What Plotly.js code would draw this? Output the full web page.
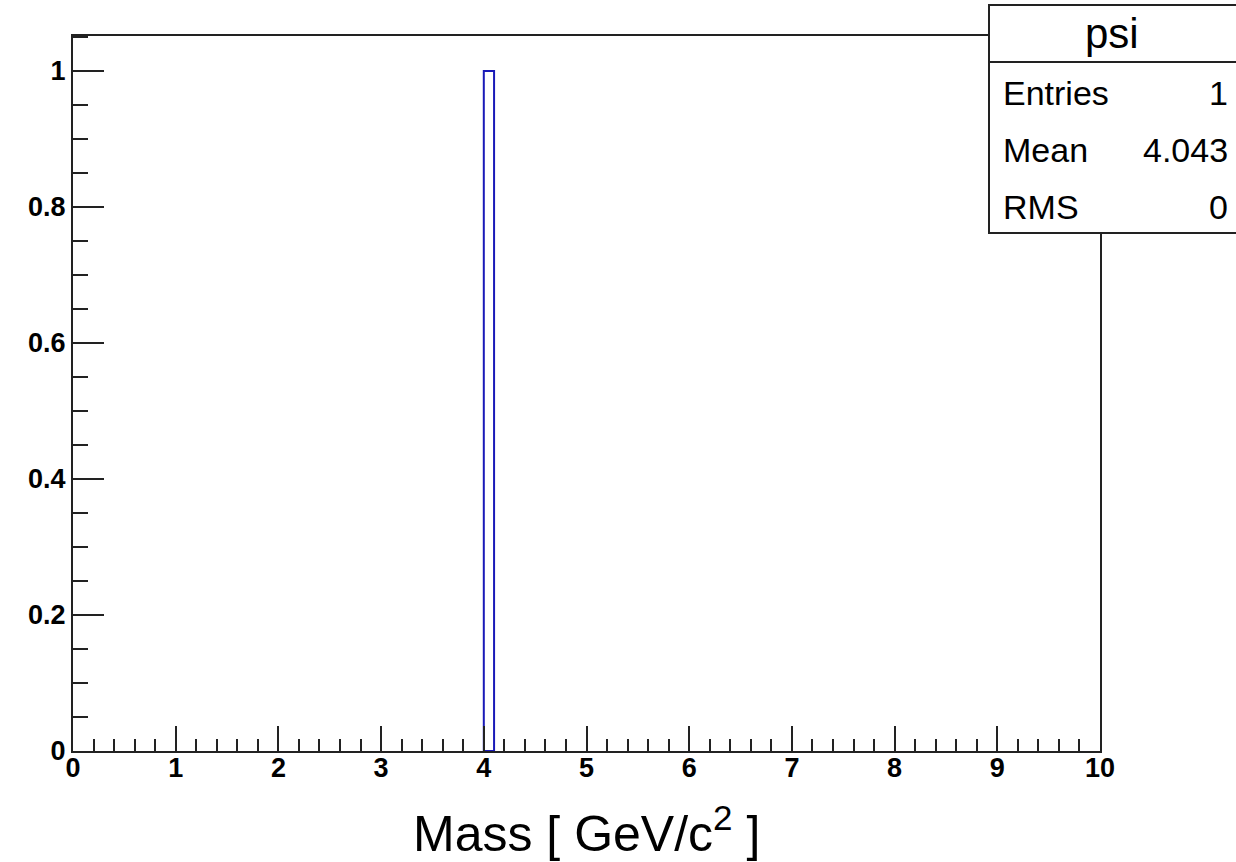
<!DOCTYPE html>
<html>
<head>
<meta charset="utf-8">
<script src="https://cdn.plot.ly/plotly-3.0.1.min.js"></script>
<style>html,body{margin:0;padding:0;background:#fff;}#chart{width:1236px;height:862px;}</style>
</head>
<body>
<div id="chart"></div>
<script>
// Histogram data (bin centers, counts, bin width)
const binCenters = [4.05];
const binCounts = [1];
const binWidth = [0.1];
// Stats box content
const statsTitle = "psi";
const statsLabels = ["Entries", "Mean", "RMS"];
const statsValues = ["1", "4.043", "0"];
const xTitle = "Mass [ GeV/c<sup>2</sup> ]";

const W = 1236, H = 862;
const L = 73, R = 1100, T = 36, B = 751;
const pw = R - L, ph = B - T;
const px = x => (x - L) / pw;
const py = y => (B - y) / ph;

const trace = {
  type: 'bar',
  x: binCenters,
  y: binCounts,
  width: binWidth,
  marker: {color: 'rgba(255,255,255,0)', line: {color: '#1a1ab8', width: 2}},
  hoverinfo: 'skip'
};

const font = 'Liberation Sans, Arial, sans-serif';
const shapes = [
  {type: 'rect', xref: 'paper', yref: 'paper', x0: px(989), x1: px(1245), y0: py(233), y1: py(5),
   line: {color: '#222', width: 2}, fillcolor: 'white', layer: 'above'},
  {type: 'line', xref: 'paper', yref: 'paper', x0: px(989), x1: px(1245), y0: py(62), y1: py(62),
   line: {color: '#222', width: 2}, layer: 'above'}
];
const annotations = [
  {xref: 'paper', yref: 'paper', x: px(1112), y: py(33), text: statsTitle, showarrow: false,
   xanchor: 'center', yanchor: 'middle', font: {family: font, size: 42, color: '#000'}}
];
const rowY = [93, 150, 207];
statsLabels.forEach((lab, i) => {
  annotations.push({xref: 'paper', yref: 'paper', x: px(1001), y: py(rowY[i]), text: lab, showarrow: false,
    xanchor: 'left', yanchor: 'middle', font: {family: font, size: 34, color: '#000'}});
  annotations.push({xref: 'paper', yref: 'paper', x: px(1230), y: py(rowY[i]), text: statsValues[i], showarrow: false,
    xanchor: 'right', yanchor: 'middle', font: {family: font, size: 34, color: '#000'}});
});
annotations.push({xref: 'paper', yref: 'paper', x: 0.5, y: py(830), text: xTitle, showarrow: false,
  xanchor: 'center', yanchor: 'middle', font: {family: font, size: 50, color: '#000'}});

const layout = {
  width: W, height: H,
  margin: {l: L, r: W - R, t: T, b: H - B, pad: 0},
  paper_bgcolor: 'white', plot_bgcolor: 'white',
  showlegend: false,
  bargap: 0,
  xaxis: {
    range: [0, 10], dtick: 1, tick0: 0, ticks: 'inside', ticklen: 25, tickwidth: 2, tickcolor: '#222',
    minor: {dtick: 0.2, ticks: 'inside', ticklen: 12, tickwidth: 2, tickcolor: '#222', showgrid: false},
    showline: true, linecolor: '#222', linewidth: 2, mirror: true, showgrid: false, zeroline: false,
    tickfont: {family: font, size: 27, color: '#000', weight: 'bold'}, ticklabelstandoff: -8
  },
  yaxis: {
    range: [0, 1.0515], dtick: 0.2, tick0: 0, ticks: 'inside', ticklen: 31, tickwidth: 2, tickcolor: '#222',
    minor: {dtick: 0.05, ticks: 'inside', ticklen: 15, tickwidth: 2, tickcolor: '#222', showgrid: false},
    showline: true, linecolor: '#222', linewidth: 2, mirror: true, showgrid: false, zeroline: false,
    tickfont: {family: font, size: 27, color: '#000', weight: 'bold'}, ticklabelstandoff: 0
  },
  shapes: shapes,
  annotations: annotations
};

Plotly.newPlot('chart', [trace], layout, {staticPlot: true, displayModeBar: false});
</script>
</body>
</html>
